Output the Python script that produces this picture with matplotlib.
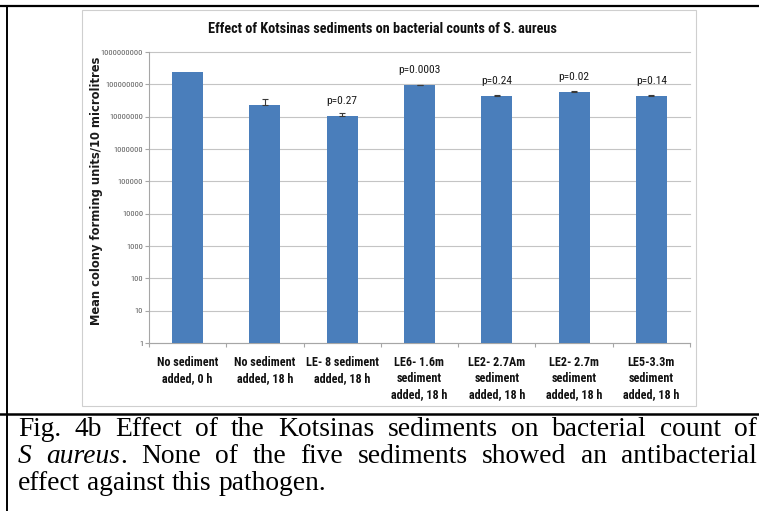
import matplotlib
matplotlib.use("Agg")
import matplotlib.pyplot as plt
from matplotlib import font_manager as fm
from matplotlib.lines import Line2D
from matplotlib.patches import Rectangle
from matplotlib.ticker import FixedLocator, FixedFormatter, NullLocator

# ---- data -------------------------------------------------------------
categories = [
    "No sediment\nadded, 0 h",
    "No sediment\nadded, 18 h",
    "LE- 8 sediment\nadded, 18 h",
    "LE6- 1.6m\nsediment\nadded, 18 h",
    "LE2- 2.7Am\nsediment\nadded, 18 h",
    "LE2- 2.7m\nsediment\nadded, 18 h",
    "LE5-3.3m\nsediment\nadded, 18 h",
]
mean_cfu = [2.4e8, 2.3e7, 1.07e7, 9.5e7, 4.3e7, 6.0e7, 4.5e7]
err_upper = [0.0, 1.1e7, 2.0e6, 3.0e6, 3.0e6, 1.5e6, 2.0e6]
p_labels = ["", "", "p=0.27", "p=0.0003", "p=0.24", "p=0.02", "p=0.14"]
ytick_values = [1, 10, 100, 1e3, 1e4, 1e5, 1e6, 1e7, 1e8, 1e9]
ytick_labels = ["1", "10", "100", "1000", "10000", "100000", "1000000",
                "10000000", "100000000", "1000000000"]

chart_title = "Effect of Kotsinas sediments on bacterial counts of S. aureus"
y_title = "Mean colony forming units/10 microlitres"

caption_lines = [
    [[("Fig.", "normal")], [("4b", "normal")], [("Effect", "normal")],
     [("of", "normal")], [("the", "normal")], [("Kotsinas", "normal")],
     [("sediments", "normal")], [("on", "normal")], [("bacterial", "normal")],
     [("count", "normal")], [("of", "normal")]],
    [[("S", "italic")], [("aureus", "italic"), (".", "normal")],
     [("None", "normal")], [("of", "normal")], [("the", "normal")],
     [("five", "normal")], [("sediments", "normal")], [("showed", "normal")],
     [("an", "normal")], [("antibacterial", "normal")]],
    [[("effect", "normal")], [("against", "normal")], [("this", "normal")],
     [("pathogen.", "normal")]],
]

# ---- fonts ------------------------------------------------------------
installed = {f.name for f in fm.fontManager.ttflist}


def pick(*names):
    for n in names:
        if n in installed:
            return n
    return "DejaVu Sans"


SANS = pick("Liberation Sans Narrow", "Roboto Condensed", "Lato", "Liberation Sans")
WIDE = pick("DejaVu Sans", "Liberation Sans")
SERIF = pick("Liberation Serif", "DejaVu Serif")

W, H = 759, 511
fig = plt.figure(figsize=(W / 100, H / 100), dpi=100)
renderer = fig.canvas.get_renderer()


def fx(x):
    return x / W


def fy(y):
    return 1 - y / H


def text_width(s, **kw):
    t = fig.text(0, 0, s, **kw)
    w = t.get_window_extent(renderer=renderer).width
    t.remove()
    return w


def fitted(s, target, **kw):
    return 10 * target / text_width(s, fontsize=10, **kw)


# ---- page decoration: table rules and chart frame ---------------------
fig.add_artist(Line2D([0, 1], [fy(6), fy(6)], color="black", lw=1.6,
                      transform=fig.transFigure))
fig.add_artist(Line2D([fx(7), fx(7)], [fy(6), 0], color="black", lw=1.4,
                      transform=fig.transFigure))
fig.add_artist(Line2D([0, 1], [fy(414), fy(414)], color="black", lw=1.8,
                      transform=fig.transFigure))
fig.add_artist(Rectangle((fx(82), fy(406)), fx(696) - fx(82), fy(10) - fy(406),
                         transform=fig.transFigure, facecolor="white",
                         edgecolor="#cfcfcf", lw=0.8, zorder=0))

# ---- axes -------------------------------------------------------------
ax_l, ax_r, ax_t, ax_b = 149, 690, 52, 343
ax = fig.add_axes([fx(ax_l), fy(ax_b), fx(ax_r) - fx(ax_l), fy(ax_t) - fy(ax_b)])
ax.set_yscale("log")
ax.set_ylim(1, 1e9)
ax.set_xlim(-0.5, len(categories) - 0.5)
ax.set_axisbelow(True)

x = list(range(len(categories)))
bar_color = "#4a7ebb"
ax.bar(x, mean_cfu, width=0.4, color=bar_color, zorder=3)

ex = [i for i in x if err_upper[i] > 0]
ax.errorbar(ex, [mean_cfu[i] for i in ex],
            yerr=[[0] * len(ex), [err_upper[i] for i in ex]],
            fmt="none", ecolor="#3a3a3a", elinewidth=0.8, capsize=2.2,
            capthick=0.8, zorder=4)

p_size = fitted("p=0.0003", 42, family=SANS)
for i, lab in enumerate(p_labels):
    if lab:
        ax.annotate(lab, (i, mean_cfu[i]), xytext=(0, 10.8),
                    textcoords="offset points", ha="center", va="center",
                    fontsize=p_size, family=SANS, color="#1a1a1a")

# y axis
ax.yaxis.set_major_locator(FixedLocator(ytick_values))
ax.yaxis.set_major_formatter(FixedFormatter(ytick_labels))
ax.yaxis.set_minor_locator(NullLocator())
ytick_size = fitted("1000000000", 41, family=SANS)
ax.tick_params(axis="y", which="major", length=2.9, width=0.8,
               color="#a6a6a6", pad=1.4, labelsize=ytick_size,
               labelcolor="#595959")
for lbl in ax.get_yticklabels():
    lbl.set_family(SANS)
ax.yaxis.grid(True, color="#c4c4c4", lw=0.8)
for g in ax.yaxis.get_gridlines():
    g.set_clip_on(False)

# x axis: labels centred, tick marks between categories
ax.set_xticks(x)
xlab_size = 1.12 * fitted("LE- 8 sediment", 65, family=SANS, weight="bold")
ax.set_xticklabels(categories, fontsize=xlab_size, family=SANS,
                   weight="bold", color="#111111", linespacing=1.32)
ax.set_xticks([i + 0.5 for i in range(-1, len(categories))], minor=True)
ax.tick_params(axis="x", which="major", length=0, pad=9.0)
ax.tick_params(axis="x", which="minor", length=2.9, width=0.8, color="#a6a6a6")

for side in ("top", "right"):
    ax.spines[side].set_visible(False)
for side in ("left", "bottom"):
    ax.spines[side].set_color("#a6a6a6")
    ax.spines[side].set_linewidth(0.8)

# titles
t_size = fitted(chart_title, 350, family=SANS, weight="bold")
fig.text(fx(382), fy(29), chart_title, ha="center", va="center",
         fontsize=t_size, family=SANS, weight="bold", color="#111111")
yl_size = fitted(y_title, 267, family=WIDE, weight="bold")
fig.text(fx(97), fy(191), y_title, ha="center", va="center", rotation=90,
         fontsize=yl_size, family=WIDE, weight="bold", color="#1a1a1a")

# ---- caption ----------------------------------------------------------
cap_size = fitted("effect against this pathogen.", 309, family=SERIF)


def seg_width(s, style):
    return text_width(s, fontsize=cap_size, family=SERIF, style=style)


def draw_line(words, x0, x1, ybase, justify):
    widths = [sum(seg_width(s, st) for s, st in w) for w in words]
    if justify:
        gap = (x1 - x0 - sum(widths)) / (len(words) - 1)
    else:
        gap = seg_width("a b", "normal") - seg_width("ab", "normal")
    xpos = x0
    for w in words:
        for s, st in w:
            fig.text(fx(xpos), fy(ybase), s, ha="left", va="baseline",
                     fontsize=cap_size, family=SERIF, style=st, color="black")
            xpos += seg_width(s, st)
        xpos += gap


baselines = [436, 463, 490]
for k, words in enumerate(caption_lines):
    draw_line(words, 18, 757, baselines[k], justify=(k < 2))

fig.savefig("out.png", dpi=100)
